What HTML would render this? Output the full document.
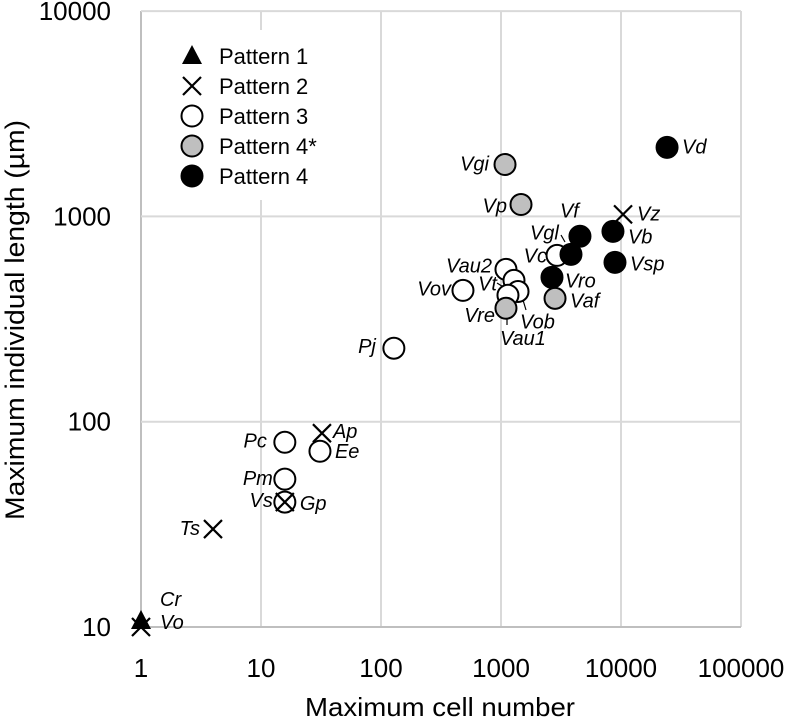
<!DOCTYPE html>
<html><head><meta charset="utf-8"><style>
html,body{margin:0;padding:0;background:#fff;}
svg{display:block;font-family:"Liberation Sans",sans-serif;}
</style></head><body>
<svg id="chart" width="787" height="720" viewBox="0 0 787 720"></svg>
<script>
const names   = ["Cr","Vo","Ts","Ap","Gp","Vz","Pc","Ee","Pm","Vs","Pj","Vov","Vau2","Vt","Vob","Vau1o","Vc","Vgi","Vp","Vre","Vaf","Vf","Vgl","Vro","Vb","Vsp","Vd"];
const pattern = ["p1","p2","p2","p2","p2","p2","p3","p3","p3","p3","p3","p3","p3","p3","p3","p3","p3","p4s","p4s","p4s","p4s","p4","p4","p4","p4","p4","p4"];
const cellNum = [1,1,3.98,32.2,15.8,10400,15.8,31,15.8,15.8,128,482,1100,1283,1386,1143,2930,1080,1468,1100,2820,4550,3830,2660,8570,8910,24200];
const lenUm   = [10.7,10,30,87.9,40.6,1023,79.4,71.8,52.5,40.6,228,436,552,488,431,413,646,1790,1143,357,399,800,653,505,845,597,2170];
const xTicks = [1,10,100,1000,10000,100000];
const yTicks = [10,100,1000,10000];
const xTickLabels = ["1","10","100","1000","10000","100000"];
const yTickLabels = ["10","100","1000","10000"];
const labelText = ["Cr","Vo","Ts","Ap","Gp","Vz","Pc","Ee","Pm","Vs","Pj","Vov","Vau2","Vt","Vob","Vau1","Vc","Vgi","Vp","Vre","Vaf","Vf","Vgl","Vro","Vb","Vsp","Vd"];
const labelPos = [[19,-15,"start"],[19,2,"start"],[-13,6,"end"],[11,5,"start"],[15,8,"start"],[14,6,"start"],[-18,5,"end"],[15,7,"start"],[-12,6,"end"],[-12,5,"end"],[-18,5,"end"],[-12,5,"end"],[-14,3,"end"],[-17,10,"end"],[2,37,"start"],[-8,50,"start"],[-10,7,"end"],[-16,6,"end"],[-14,8,"end"],[-11,14,"end"],[15,9,"start"],[-20,-19,"start"],[-41,-15,"start"],[13,10,"start"],[15,12,"start"],[15,8,"start"],[15,6,"start"]];

const NS="http://www.w3.org/2000/svg";
const svg=document.getElementById('chart');
const L=141,R=741,T=11,B=627;
const xs=v=>L+Math.log10(v)*120;
const ys=v=>B-(Math.log10(v)-1)*205.3;
function mk(tag,attrs,parent){const e=document.createElementNS(NS,tag);for(const k in attrs)e.setAttribute(k,attrs[k]);(parent||svg).appendChild(e);return e;}

xTicks.forEach((t,i)=>{
  const g=mk('line',{x1:xs(t),x2:xs(t),y1:T,y2:B,stroke:i===0?'#bfbfbf':'#d9d9d9','stroke-width':2});
  
  
  const tx=mk('text',{x:xs(t),y:677,'text-anchor':'middle','font-size':26,fill:'#000'});
  tx.textContent=xTickLabels[i];
  
  
});
yTicks.forEach((t,i)=>{
  const g=mk('line',{x1:L,x2:R,y1:ys(t),y2:ys(t),stroke:i===0?'#bfbfbf':'#d9d9d9','stroke-width':2});
  
  
  const tx=mk('text',{x:111,y:ys(t)+9,'text-anchor':'end','font-size':26,fill:'#000'});
  tx.textContent=yTickLabels[i];
  
  
});
const xt=mk('text',{x:440,y:716,'text-anchor':'middle','font-size':26,textLength:270,lengthAdjust:'spacingAndGlyphs'});
xt.textContent="Maximum cell number";


const yt=mk('text',{x:0,y:0,'text-anchor':'middle','font-size':27,textLength:400,lengthAdjust:'spacingAndGlyphs',transform:'translate(24,320) rotate(-90)'});
yt.textContent="Maximum individual length (µm)";



function marker(type,cx,cy,parent){
  let e;
  if(type==='p1'){e=mk('polygon',{points:`${cx},${cy-11} ${cx-10},${cy+8} ${cx+10},${cy+8}`,fill:'#000'},parent);}
  else if(type==='p2'){e=mk('path',{d:`M${cx-9},${cy-9}L${cx+9},${cy+9}M${cx+9},${cy-9}L${cx-9},${cy+9}`,stroke:'#000','stroke-width':2.2,fill:'none'},parent);}
  else {const f=type==='p3'?'#fff':type==='p4s'?'#bfbfbf':'#000';
    e=mk('circle',{cx,cy,r:10.5,fill:f,stroke:'#000','stroke-width':2},parent);}
  return e;
}
[[561,235,565,242],[497,283,505,288],[523,300,526,310],[507,310,507,325]].forEach(l=>{
  const e=mk('line',{x1:l[0],y1:l[1],x2:l[2],y2:l[3],stroke:'#000','stroke-width':1.2});
  
  
});
const order=[...names.keys()].sort((a,b)=>{const r={p3:0,p4s:1,p4:2,p1:3,p2:4};return r[pattern[a]]-r[pattern[b]];});
order.forEach(i=>{
  const e=marker(pattern[i],xs(cellNum[i]),ys(lenUm[i]));
  
  
});
names.forEach((n,i)=>{
  const p=labelPos[i];
  const t=mk('text',{x:xs(cellNum[i])+p[0],y:ys(lenUm[i])+p[1],'text-anchor':p[2],'font-size':20,'font-style':'italic'});
  t.textContent=labelText[i];
  
  
});
const legTypes=["p1","p2","p3","p4s","p4"];
const legLabels=["Pattern 1","Pattern 2","Pattern 3","Pattern 4*","Pattern 4"];
const lg=mk('g',{});


mk('rect',{x:150,y:30,width:160,height:170,fill:'#fff'},lg);
legTypes.forEach((t,i)=>{
  const y=56+i*30;
  const m=marker(t,192,y,lg);
  
  
  const tx=mk('text',{x:219,y:y+8,'font-size':22},lg);
  tx.textContent=legLabels[i];
  
  
});
</script>
</body></html>
